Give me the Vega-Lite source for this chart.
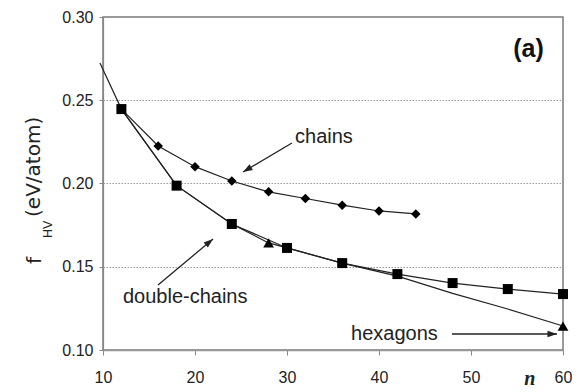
{
  "$schema": "https://vega.github.io/schema/vega-lite/v6.json",
  "autosize": {"type": "none"},
  "width": 460,
  "height": 333,
  "padding": {"left": 103, "top": 17, "right": 22, "bottom": 42},
  "background": "white",
  "config": {
    "font": "Liberation Sans",
    "view": {"stroke": "#7a7a7a", "strokeWidth": 1.5}
  },
  "datasets": {
    "energies": [
      {"series": "chains", "n": 12, "f": 0.2447},
      {"series": "chains", "n": 16, "f": 0.2225},
      {"series": "chains", "n": 20, "f": 0.2101},
      {"series": "chains", "n": 24, "f": 0.2015},
      {"series": "chains", "n": 28, "f": 0.1950},
      {"series": "chains", "n": 32, "f": 0.1910},
      {"series": "chains", "n": 36, "f": 0.1870},
      {"series": "chains", "n": 40, "f": 0.1835},
      {"series": "chains", "n": 44, "f": 0.1817},
      {"series": "double-chains", "n": 12, "f": 0.2447},
      {"series": "double-chains", "n": 18, "f": 0.1987},
      {"series": "double-chains", "n": 24, "f": 0.1757},
      {"series": "double-chains", "n": 30, "f": 0.1613},
      {"series": "double-chains", "n": 36, "f": 0.1522},
      {"series": "double-chains", "n": 42, "f": 0.1456},
      {"series": "double-chains", "n": 48, "f": 0.1402},
      {"series": "double-chains", "n": 54, "f": 0.1366},
      {"series": "double-chains", "n": 60, "f": 0.1336},
      {"series": "hexagons", "n": 28, "f": 0.1643},
      {"series": "hexagons", "n": 60, "f": 0.1144}
    ],
    "lowestCurve": [
      {"n": 9.67, "f": 0.2724},
      {"n": 12, "f": 0.2447},
      {"n": 18, "f": 0.1987},
      {"n": 24, "f": 0.1757},
      {"n": 28, "f": 0.1643},
      {"n": 30, "f": 0.1613},
      {"n": 36, "f": 0.1522},
      {"n": 42, "f": 0.1444},
      {"n": 48, "f": 0.1340},
      {"n": 54, "f": 0.1246},
      {"n": 60, "f": 0.1144}
    ],
    "arrows": [
      {"label": "chains", "n": 30.54, "f": 0.2243, "n2": 25.22, "f2": 0.2069},
      {"label": "double-chains", "n": 15.98, "f": 0.1390, "n2": 21.96, "f2": 0.1667},
      {"label": "hexagons", "n": 47.93, "f": 0.1096, "n2": 59.35, "f2": 0.1096}
    ],
    "labels": [
      {"text": "chains", "n": 30.87, "f": 0.2243},
      {"text": "double-chains", "n": 12.17, "f": 0.1282},
      {"text": "hexagons", "n": 36.96, "f": 0.1060}
    ]
  },
  "encoding": {
    "x": {
      "field": "n",
      "type": "quantitative",
      "scale": {"domain": [10, 60], "nice": false, "zero": false},
      "axis": {
        "title": null,
        "values": [10, 20, 30, 40, 50, 60],
        "grid": false,
        "labelFontSize": 16,
        "labelColor": "#222222",
        "labelPadding": 14,
        "labelFlush": false,
        "labelOverlap": false,
        "tickSize": 5,
        "tickColor": "#888888",
        "domainColor": "#999999",
        "domainWidth": 1.5
      }
    },
    "y": {
      "field": "f",
      "type": "quantitative",
      "scale": {"domain": [0.1, 0.3], "nice": false, "zero": false},
      "axis": {
        "title": null,
        "values": [0.1, 0.15, 0.2, 0.25, 0.3],
        "format": ".2f",
        "grid": true,
        "gridColor": "#999999",
        "gridDash": [1.5, 1.5],
        "gridWidth": 1,
        "labelFontSize": 16,
        "labelColor": "#222222",
        "labelPadding": 6,
        "labelOverlap": false,
        "tickSize": 4,
        "tickColor": "#888888",
        "domainColor": "#888888",
        "domainWidth": 1.2
      }
    }
  },
  "layer": [
    {
      "data": {"name": "energies"},
      "transform": [{"filter": "datum.series !== 'hexagons'"}],
      "mark": {"type": "line", "color": "#222222", "strokeWidth": 1.2},
      "encoding": {"detail": {"field": "series"}}
    },
    {
      "data": {"name": "lowestCurve"},
      "mark": {"type": "line", "color": "#222222", "strokeWidth": 1.2}
    },
    {
      "data": {"name": "energies"},
      "transform": [{"filter": "datum.series === 'chains'"}],
      "mark": {"type": "point", "shape": "diamond", "size": 90, "filled": true, "color": "#000000", "opacity": 1}
    },
    {
      "data": {"name": "energies"},
      "transform": [{"filter": "datum.series === 'double-chains'"}],
      "mark": {"type": "point", "shape": "square", "size": 100, "filled": true, "color": "#000000", "opacity": 1}
    },
    {
      "data": {"name": "energies"},
      "transform": [{"filter": "datum.series === 'hexagons'"}],
      "mark": {"type": "point", "shape": "triangle-up", "size": 115, "filled": true, "color": "#000000", "opacity": 1}
    },
    {
      "data": {"name": "arrows"},
      "mark": {"type": "rule", "color": "#222222", "strokeWidth": 1.3},
      "encoding": {
        "x2": {"field": "n2"},
        "y2": {"field": "f2"}
      }
    },
    {
      "data": {"name": "arrows"},
      "transform": [{"filter": "datum.label === 'chains'"}],
      "mark": {"type": "point", "shape": "M0,0L0.35,1L-0.35,1Z", "size": 361, "angle": 239.4, "filled": true, "color": "#222222", "opacity": 1},
      "encoding": {
        "x": {"field": "n2", "type": "quantitative"},
        "y": {"field": "f2", "type": "quantitative"}
      }
    },
    {
      "data": {"name": "arrows"},
      "transform": [{"filter": "datum.label === 'double-chains'"}],
      "mark": {"type": "point", "shape": "M0,0L0.35,1L-0.35,1Z", "size": 361, "angle": 50.1, "filled": true, "color": "#222222", "opacity": 1},
      "encoding": {
        "x": {"field": "n2", "type": "quantitative"},
        "y": {"field": "f2", "type": "quantitative"}
      }
    },
    {
      "data": {"name": "arrows"},
      "transform": [{"filter": "datum.label === 'hexagons'"}],
      "mark": {"type": "point", "shape": "M0,0L0.35,1L-0.35,1Z", "size": 361, "angle": 90, "filled": true, "color": "#222222", "opacity": 1},
      "encoding": {
        "x": {"field": "n2", "type": "quantitative"},
        "y": {"field": "f2", "type": "quantitative"}
      }
    },
    {
      "data": {"name": "labels"},
      "mark": {"type": "text", "align": "left", "baseline": "alphabetic", "fontSize": 20, "color": "#222222"},
      "encoding": {"text": {"field": "text"}}
    },
    {
      "data": {"values": [{"text": "(a)", "n": 56.25, "f": 0.2762}]},
      "mark": {"type": "text", "align": "center", "baseline": "alphabetic", "fontSize": 25, "fontWeight": "bold", "color": "#111111"},
      "encoding": {"text": {"field": "text"}}
    },
    {
      "data": {"values": [{"text": "n", "n": 56.4, "f": 0.0790}]},
      "mark": {"type": "text", "align": "center", "baseline": "alphabetic", "fontSize": 20, "font": "Liberation Serif", "fontStyle": "italic", "fontWeight": "bold", "color": "#222222"},
      "encoding": {"text": {"field": "text"}}
    },
    {
      "data": {"values": [
        {"text": "f", "n": 3.26, "f": 0.1517},
        {"text": "(eV/atom)", "n": 3.15, "f": 0.1799}
      ]},
      "mark": {"type": "text", "align": "left", "baseline": "alphabetic", "angle": 270, "fontSize": 20, "font": "DejaVu Sans", "color": "#222222"},
      "encoding": {"text": {"field": "text"}}
    },
    {
      "data": {"values": [{"text": "HV", "n": 4.46, "f": 0.1673}]},
      "mark": {"type": "text", "align": "left", "baseline": "alphabetic", "angle": 270, "fontSize": 12.5, "color": "#222222"},
      "encoding": {"text": {"field": "text"}}
    }
  ]
}
